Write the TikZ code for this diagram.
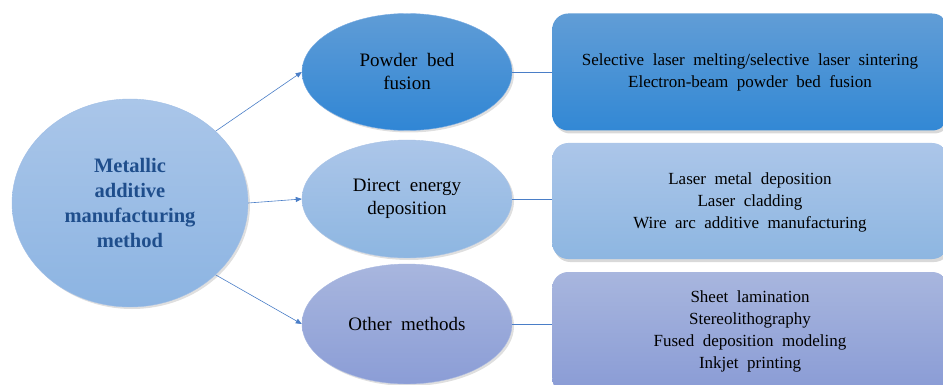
\documentclass[tikz,border=0pt]{standalone}
\usepackage{fontspec}
\setmainfont{Liberation Serif}[WordSpace=2]
\usetikzlibrary{shapes.geometric,shadows,arrows.meta}
\definecolor{linec}{HTML}{4A7EC7}
\definecolor{titlec}{HTML}{1F4E8C}
\tikzset{
  ell/.style={ellipse, line width=0.4pt, align=center, font=\fontsize{19}{23}\selectfont, text=black,
    drop shadow={shadow xshift=2pt, shadow yshift=-2pt, opacity=0.25}},
  rbox/.style={rectangle, rounded corners=16pt, draw=none,
    drop shadow={shadow xshift=2pt, shadow yshift=-3pt, opacity=0.3}},
  btext/.style={font=\fontsize{17}{22}\selectfont, align=center, text=black},
  conn/.style={draw=linec, line width=0.6pt},
  arr/.style={conn, -{Triangle[length=6pt,width=5pt]}},
}
\begin{document}
\begin{tikzpicture}[x=1pt,y=-1pt]
\useasboundingbox (0,0) rectangle (943,385);
% main circle
\node[ell, minimum width=236pt, minimum height=208pt, inner sep=0pt,
  top color={rgb,255:red,170;green,198;blue,233}, bottom color={rgb,255:red,140;green,180;blue,226},
  draw={rgb,255:red,160;green,190;blue,230}, text=titlec, font=\bfseries\fontsize{20.5}{25}\selectfont]
  (main) at (130,203) {Metallic\\additive\\manufacturing\\method};
% method ellipses
\node[ell, minimum width=210pt, minimum height=117pt, inner sep=0pt,
  top color={rgb,255:red,95;green,156;blue,214}, bottom color={rgb,255:red,48;green,134;blue,213},
  draw={rgb,255:red,120;green,170;blue,225}]
  (pbf) at (407,72) {Powder bed\\fusion};
\node[ell, minimum width=210pt, minimum height=118pt, inner sep=0pt,
  top color={rgb,255:red,172;green,198;blue,233}, bottom color={rgb,255:red,141;green,182;blue,225},
  draw={rgb,255:red,170;green,195;blue,230}]
  (ded) at (407,199) {Direct energy\\deposition};
\node[ell, minimum width=210pt, minimum height=120pt, inner sep=0pt,
  top color={rgb,255:red,168;green,182;blue,222}, bottom color={rgb,255:red,139;green,157;blue,214},
  draw={rgb,255:red,170;green,185;blue,225}]
  (oth) at (407,324) {Other methods};
% boxes
\node[rbox, minimum width=396pt, minimum height=117pt, anchor=west,
  top color={rgb,255:red,97;green,157;blue,214}, bottom color={rgb,255:red,50;green,136;blue,213}]
  (b1) at (552,72) {};
\node[btext] (t1) at (750,72) {Selective laser melting/selective laser sintering\\Electron-beam powder bed fusion};
\node[rbox, minimum width=396pt, minimum height=116pt, anchor=west,
  top color={rgb,255:red,172;green,198;blue,233}, bottom color={rgb,255:red,141;green,182;blue,225}]
  (b2) at (552,201) {};
\node[btext] (t2) at (750,202) {Laser metal deposition\\Laser cladding\\Wire arc additive manufacturing};
\node[rbox, minimum width=396pt, minimum height=122pt, anchor=west,
  top color={rgb,255:red,168;green,182;blue,222}, bottom color={rgb,255:red,137;green,155;blue,213}]
  (b3) at (552,333) {};
\node[btext] (t3) at (750,331) {Sheet lamination\\Stereolithography\\Fused deposition modeling\\Inkjet printing};
% connectors
\draw[arr] (main.40) -- (pbf.west);
\draw[arr] (main.east) -- (ded.west);
\draw[arr] (main.-40) -- (oth.west);
\draw[conn] (pbf.east) -- (b1.west);
\draw[conn] (ded.east) -- (b2.west |- ded.east);
\draw[conn] (oth.east) -- (b3.west |- oth.east);
\end{tikzpicture}
\end{document}
